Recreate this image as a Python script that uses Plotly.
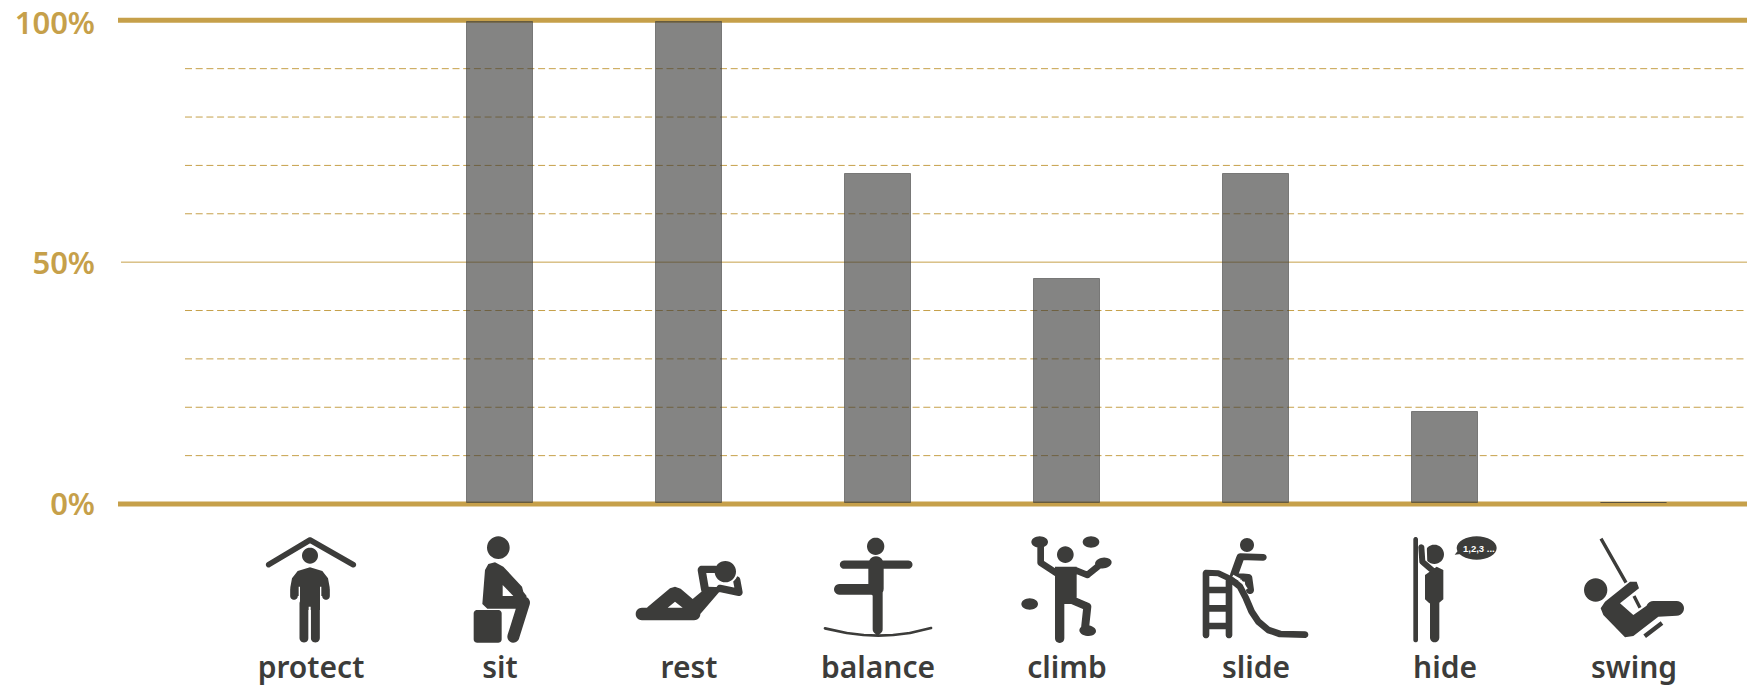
import math
import plotly.graph_objects as go

categories = ["protect", "sit", "rest", "balance", "climb", "slide", "hide", "swing"]
shares = [0.0, 99.4, 99.4, 68.0, 46.4, 68.0, 18.8, 0.1]
bar_base = [0.2] * 8
bar_edge = [0, 1, 1, 1, 1, 1, 1, 1]
y_label_text = ["0%", "50%", "100%"]
y_label_pos = [0, 49.7, 99.4]
minor_levels = [10, 20, 30, 40, 60, 70, 80, 90]

GOLD = "#c6a04a"
INK = "#3c3c3a"
AXIS_Y = 504.0
CENTERS = [311 + 189 * i for i in range(8)]
PAGE_W, PAGE_H = 1747, 687
M_L, M_T, M_B = 118, 10, 177
PLOT_H = PAGE_H - M_T - M_B
AXIS_PAPER = (PAGE_H - M_B - AXIS_Y) / PLOT_H


class Icon:
    """Collects filled outlines in crop coordinates and turns them into a path
    measured in pixels from the foot of the category's slot."""

    def __init__(self, index, cx, cy):
        self.index, self.cx, self.cy = index, cx, cy
        self.center = CENTERS[index]
        self.layers = []
        self.current = []
        self.color = INK

    def _conv(self, p):
        return ((self.cx + p[0] / 3) - self.center, AXIS_Y - (self.cy + p[1] / 3))

    def _add(self, pts):
        a = sum(pts[i][0] * pts[(i + 1) % len(pts)][1] - pts[(i + 1) % len(pts)][0] * pts[i][1] for i in range(len(pts)))
        if a < 0:
            pts = pts[::-1]
        self.current.append(pts)

    def layer(self, color):
        self.flush()
        self.color = color

    def flush(self):
        if self.current:
            self.layers.append((self.color, self.current))
        self.current = []

    def poly(self, pts):
        self._add([self._conv(p) for p in pts])

    def circ(self, c, r):
        self.ell(c, r, r)

    def ell(self, c, rx, ry, ang=0):
        ca, sa = math.cos(math.radians(ang)), math.sin(math.radians(ang))
        pts = []
        for k in range(32):
            t = 2 * math.pi * k / 32
            x, y = rx * math.cos(t), ry * math.sin(t)
            pts.append((c[0] + x * ca - y * sa, c[1] + x * sa + y * ca))
        self.poly(pts)

    def stroke(self, pts, w, cap=True):
        r = w / 2
        for a, b in zip(pts, pts[1:]):
            th = math.atan2(b[1] - a[1], b[0] - a[0])
            out = []
            if cap:
                for k in range(13):
                    t = th + math.pi / 2 + math.pi * k / 12
                    out.append((a[0] + r * math.cos(t), a[1] + r * math.sin(t)))
                for k in range(13):
                    t = th - math.pi / 2 + math.pi * k / 12
                    out.append((b[0] + r * math.cos(t), b[1] + r * math.sin(t)))
            else:
                nx, ny = -math.sin(th) * r, math.cos(th) * r
                out = [(a[0] + nx, a[1] + ny), (b[0] + nx, b[1] + ny), (b[0] - nx, b[1] - ny), (a[0] - nx, a[1] - ny)]
            self.poly(out)

    def rrect(self, x0, y0, x1, y1, r):
        self.poly([(x0 + r, y0), (x1 - r, y0), (x1, y0 + r), (x1, y1 - r), (x1 - r, y1), (x0 + r, y1), (x0, y1 - r), (x0, y0 + r)])
        self.stroke([(x0 + r, y0 + r), (x1 - r, y0 + r), (x1 - r, y1 - r), (x0 + r, y1 - r), (x0 + r, y0 + r)], 2 * r)

    def shapes(self):
        self.flush()
        out = []
        for color, subs in self.layers:
            d = "".join("M" + "L".join(f"{x:.2f},{y:.2f}" for x, y in s) + "Z" for s in subs)
            out.append(dict(type="path", path=d, fillcolor=color, fillrule="nonzero",
                            line=dict(width=0), layer="above",
                            xref="x", xsizemode="pixel", xanchor=self.index,
                            yref="paper", ysizemode="pixel", yanchor=AXIS_PAPER))
        return out


icons = []

# protect
ic = Icon(0, 230, 490)
ic.stroke([(116, 224), (240, 150), (370, 224)], 17)
ic.circ((240, 197), 24)
ic.poly([(181, 318), (181, 292), (186, 265), (203, 243), (240, 232), (277, 243), (294, 265), (299, 292), (299, 318), (270, 318), (270, 360), (210, 360), (210, 318)])
ic.stroke([(192, 318), (192, 298)], 23)
ic.stroke([(288, 318), (288, 298)], 23)
ic.stroke([(222, 444), (222, 340)], 27)
ic.stroke([(256, 444), (256, 340)], 27)
ic.layer("#ffffff")
ic.poly([(236, 350), (242, 350), (242, 456), (236, 456)])
ic.poly([(206, 290), (210, 290), (210, 318), (206, 330)])
ic.poly([(270, 290), (274, 290), (274, 330), (270, 318)])
icons.append(ic)

# sit
ic = Icon(1, 230, 490)
ic.circ((805, 173), 34)
ic.poly([(765, 240), (775, 222), (795, 217), (820, 230), (876, 290), (880, 305), (890, 318), (880, 356), (772, 356), (757, 342)])
ic.stroke([(882, 338), (850, 440)], 36)
ic.rrect(731, 360, 815, 458, 10)
ic.layer("#ffffff")
ic.poly([(818, 285), (818, 318), (850, 318)])
icons.append(ic)

# rest
ic = Icon(2, 620, 530)
ic.poly([(82, 232), (150, 175), (165, 170), (182, 176), (218, 207), (262, 170), (310, 172), (228, 267), (70, 270)])
ic.stroke([(66, 252), (222, 252)], 38)
ic.stroke([(350, 150), (357, 187), (300, 175)], 22)
ic.layer("#ffffff")
ic.poly([(143, 233), (165, 215), (188, 233)])
ic.circ((316, 125), 38)
ic.layer(INK)
ic.circ((316, 125), 32)
ic.stroke([(245, 120), (255, 178)], 24)
ic.stroke([(245, 118), (284, 118)], 22)
icons.append(ic)

# balance
ic = Icon(3, 780, 490)
ic.circ((287, 169), 26)
ic.stroke([(192, 224), (385, 224)], 25)
ic.stroke([(288, 222), (288, 296)], 46)
ic.stroke([(178, 298), (280, 298)], 32)
ic.stroke([(293, 300), (293, 418)], 30)
ic.stroke([(135, 415), (200, 429), (250, 435), (295, 437), (340, 435), (390, 429), (453, 414)], 8)
icons.append(ic)

# climb
ic = Icon(4, 780, 490)
ic.circ((856, 194), 25)
ic.ell((779, 156), 25, 17)
ic.ell((933, 156), 25, 17)
ic.ell((970, 219), 25, 16, -8)
ic.ell((749, 342), 25, 17)
ic.ell((923, 422), 25, 16, 5)
ic.poly([(825, 230), (890, 230), (890, 342), (825, 342)])
ic.stroke([(782, 170), (782, 218), (830, 250)], 20)
ic.stroke([(885, 240), (922, 255), (965, 220)], 20)
ic.stroke([(839, 330), (839, 445)], 28)
ic.stroke([(880, 332), (922, 350), (915, 415)], 24)
icons.append(ic)

# slide
ic = Icon(5, 1190, 530)
ic.circ((171, 45), 21)
ic.stroke([(150, 80), (220, 82)], 20)
ic.stroke([(150, 85), (132, 135)], 24)
ic.stroke([(135, 140), (175, 144), (180, 180)], 24)
ic.layer("#ffffff")
ic.stroke([(128, 138), (150, 150), (170, 178)], 8, cap=False)
ic.layer(INK)
ic.stroke([(48, 130), (48, 315)], 20)
ic.stroke([(117, 150), (117, 315)], 20)
for ry in (180, 235, 288):
    ic.stroke([(48, ry), (117, ry)], 20, cap=False)
ic.stroke([(48, 128), (85, 130), (120, 146)], 18)
ic.stroke([(125, 150), (150, 170), (168, 205), (185, 245), (205, 275), (235, 300), (270, 312), (345, 314)], 20)
icons.append(ic)

# hide
ic = Icon(6, 1290, 440)
ic.stroke([(377, 298), (377, 600)], 14)
ic.circ((433, 343), 29)
ic.layer("#ffffff")
ic.stroke([(406, 310), (408, 372)], 8, cap=False)
ic.layer(INK)
ic.stroke([(394, 322), (397, 365), (432, 395)], 18)
ic.poly([(405, 405), (440, 380), (460, 390), (460, 478), (446, 490), (418, 490), (405, 478)])
ic.stroke([(434, 485), (434, 593)], 28)
ic.ell((560, 324), 60, 35)
ic.poly([(494, 344), (515, 318), (530, 340)])
icons.append(ic)

# swing
ic = Icon(7, 1290, 440)
ic.stroke([(933, 296), (1008, 428)], 10, cap=False)
ic.circ((917, 450), 35)
ic.poly([(945, 485), (1020, 425), (1040, 425), (1047, 445), (990, 490), (1030, 525), (1090, 483), (1160, 483), (1160, 527), (1105, 530), (1030, 588), (1005, 592), (940, 525), (932, 505)])
ic.stroke([(1090, 505), (1160, 505)], 44)
ic.stroke([(1032, 468), (1050, 503)], 10, cap=False)
ic.stroke([(1064, 589), (1116, 549)], 13, cap=False)
icons.append(ic)

fig = go.Figure()
fig.add_trace(go.Bar(x=categories, y=shares, base=bar_base, width=0.349,
                     marker=dict(color="rgba(60,60,58,0.63)",
                                 line=dict(color="rgba(60,60,58,0.55)", width=bar_edge))))

shapes = []
x_left_major = -(311 - 118) / 189
x_left_minor = -(311 - 185) / 189
x_right = (1747 - 311) / 189
for v in minor_levels:
    shapes.append(dict(type="line", layer="below", xref="x", yref="y", x0=x_left_minor, x1=x_right, y0=v, y1=v,
                       line=dict(color=GOLD, width=1, dash="7px,3.7px")))
shapes.append(dict(type="line", layer="below", xref="x", yref="y", x0=-(311 - 121) / 189, x1=x_right, y0=50, y1=50,
                   line=dict(color=GOLD, width=1)))
for v in (0, 100):
    shapes.append(dict(type="line", layer="below", xref="x", yref="y", x0=x_left_major, x1=x_right, y0=v, y1=v,
                       line=dict(color=GOLD, width=5)))
for ic in icons:
    shapes.extend(ic.shapes())

hide_i = categories.index("hide")
annotation = dict(text="1,2,3 ...", x=hide_i, y=AXIS_PAPER, xref="x", yref="paper", showarrow=False,
                  xanchor="center", yanchor="middle",
                  xshift=(1290 + 566 / 3) - CENTERS[hide_i], yshift=AXIS_Y - (440 + 326 / 3),
                  font=dict(family="Liberation Sans", size=9.5, color="#ffffff", weight=700))

fig.update_layout(
    width=PAGE_W, height=PAGE_H, autosize=False,
    margin=dict(l=M_L, r=0, t=M_T, b=M_B, pad=0, autoexpand=False), plot_bgcolor="#ffffff", paper_bgcolor="#ffffff",
    showlegend=False, shapes=shapes, annotations=[annotation], bargap=0,
    xaxis=dict(type="category", categoryorder="array", categoryarray=categories, automargin=False,
               range=[x_left_major, x_right], showgrid=False, zeroline=False, showline=False,
               ticks="", tickmode="array", tickvals=categories, ticktext=categories,
               ticklabelstandoff=137,
               tickfont=dict(family="Noto Sans", size=30, color=INK, weight=600)),
    yaxis=dict(range=[-1.24, 102.13], showgrid=False, zeroline=False, showline=False, ticks="", automargin=False,
               ticklabeloverflow="allow",
               tickmode="array", tickvals=y_label_pos, ticktext=y_label_text, ticklabelstandoff=22,
               tickfont=dict(family="Noto Sans", size=31, color=GOLD, weight=600)),
)
fig.write_html("out.html", config=dict(displayModeBar=False),
               post_script="document.body.style.margin='0';document.documentElement.style.overflow='hidden';")
